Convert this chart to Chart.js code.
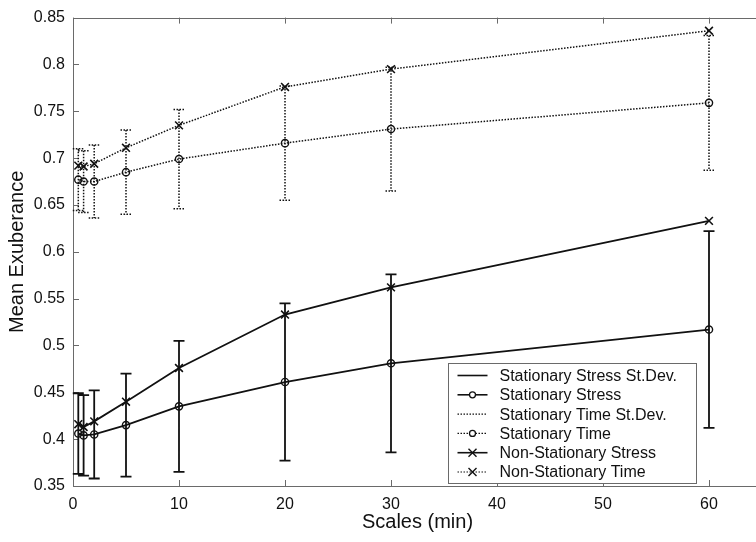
<!DOCTYPE html>
<html><head><meta charset="utf-8">
<script src="https://cdn.jsdelivr.net/npm/chart.js@4.4.0/dist/chart.umd.min.js"></script>
<style>html,body{margin:0;padding:0;overflow:hidden;background:#fff;width:756px;height:542px}canvas{display:block}</style>
</head><body><canvas id="c" width="770" height="542"></canvas>
<script>
const scaleMinutes = [0.5, 1, 2, 5, 10, 20, 30, 60];
const stationaryStress = [0.406, 0.404, 0.405, 0.415, 0.435, 0.461, 0.481, 0.517];
const stationaryStressSD = [0.043, 0.043, 0.047, 0.055, 0.070, 0.084, 0.095, 0.105];
const stationaryTime = [0.677, 0.675, 0.675, 0.685, 0.699, 0.716, 0.731, 0.759];
const stationaryTimeSD = [0.033, 0.033, 0.039, 0.045, 0.053, 0.061, 0.066, 0.072];
const nonStationaryStress = [0.416, 0.413, 0.419, 0.440, 0.476, 0.533, 0.562, 0.633];
const nonStationaryTime = [0.692, 0.691, 0.694, 0.711, 0.735, 0.776, 0.795, 0.836];
const yTicks = [0.35, 0.4, 0.45, 0.5, 0.55, 0.6, 0.65, 0.7, 0.75, 0.8, 0.85];
const xTicks = [0, 10, 20, 30, 40, 50, 60];
const legendLabels = ['Stationary Stress St.Dev.', 'Stationary Stress', 'Stationary Time St.Dev.', 'Stationary Time', 'Non-Stationary Stress', 'Non-Stationary Time'];

const FONT = 'Liberation Sans, Arial, Helvetica, sans-serif';
const INK = '#111';
const DOT = [1.5, 1.5];

function pts(vals) { return scaleMinutes.map((s, i) => ({x: s, y: vals[i]})); }

const boxPlugin = {
  id: 'box',
  beforeDatasetsDraw(chart) {
    const {ctx, chartArea: a} = chart;
    const xs = chart.scales.x, ys = chart.scales.y;
    ctx.save();
    ctx.strokeStyle = '#6a6a6a'; ctx.lineWidth = 1;
    ctx.strokeRect(Math.round(a.left) + 0.5, Math.round(a.top) + 0.5, Math.round(a.right - a.left), Math.round(a.bottom - a.top));
    const tl = 6;
    ctx.beginPath();
    xs.ticks.forEach(t => {
      const px = Math.round(xs.getPixelForValue(t.value)) + 0.5;
      ctx.moveTo(px, a.bottom); ctx.lineTo(px, a.bottom - tl);
      ctx.moveTo(px, a.top); ctx.lineTo(px, a.top + tl);
    });
    ys.ticks.forEach(t => {
      const py = Math.round(ys.getPixelForValue(t.value)) + 0.5;
      ctx.moveTo(a.left, py); ctx.lineTo(a.left + tl, py);
      ctx.moveTo(a.right, py); ctx.lineTo(a.right - tl, py);
    });
    ctx.stroke();
    ctx.restore();
  }
};

const errPlugin = {
  id: 'err',
  afterDatasetsDraw(chart) {
    const {ctx} = chart;
    const xs = chart.scales.x, ys = chart.scales.y;
    const draw = (means, sds, dash) => {
      ctx.save();
      ctx.strokeStyle = INK; ctx.lineWidth = dash ? 1.5 : 1.8;
      ctx.setLineDash(dash || []);
      ctx.beginPath();
      scaleMinutes.forEach((s, i) => {
        const px = xs.getPixelForValue(s);
        const top = ys.getPixelForValue(means[i] + sds[i]);
        const bot = ys.getPixelForValue(means[i] - sds[i]);
        const cw = 5.5;
        ctx.moveTo(px, top); ctx.lineTo(px, bot);
        ctx.moveTo(px - cw, top); ctx.lineTo(px + cw, top);
        ctx.moveTo(px - cw, bot); ctx.lineTo(px + cw, bot);
      });
      ctx.stroke();
      ctx.restore();
    };
    draw(stationaryStress, stationaryStressSD, null);
    draw(stationaryTime, stationaryTimeSD, DOT);
  }
};

const legendPlugin = {
  id: 'customLegend',
  afterDraw(chart) {
    const {ctx, chartArea: a} = chart;
    const w = 248, h = 120;
    const x0 = Math.round(a.right - 66 - w) + 0.5, y0 = Math.round(a.bottom - 3 - h) + 0.5;
    ctx.save();
    ctx.fillStyle = '#fff';
    ctx.fillRect(x0, y0, w, h);
    ctx.strokeStyle = '#6a6a6a'; ctx.lineWidth = 1;
    ctx.strokeRect(x0, y0, w, h);
    const styles = [
      {dash: null, marker: null},
      {dash: null, marker: 'o'},
      {dash: DOT, marker: null},
      {dash: DOT, marker: 'o'},
      {dash: null, marker: 'x'},
      {dash: DOT, marker: 'x'}
    ];
    ctx.font = '16px ' + FONT;
    ctx.textBaseline = 'middle';
    legendLabels.forEach((lab, i) => {
      const yy = y0 + 12 + i * 19.3;
      const st = styles[i];
      ctx.strokeStyle = INK; ctx.lineWidth = st.dash ? 1.2 : 1.6;
      ctx.setLineDash(st.dash || []);
      ctx.beginPath(); ctx.moveTo(x0 + 9, yy); ctx.lineTo(x0 + 39, yy); ctx.stroke();
      ctx.setLineDash([]);
      const mx = x0 + 24;
      if (st.marker === 'o') {
        ctx.lineWidth = 1.3; ctx.fillStyle = '#fff';
        ctx.beginPath(); ctx.arc(mx, yy, 3, 0, Math.PI * 2); ctx.fill(); ctx.stroke();
      } else if (st.marker === 'x') {
        ctx.lineWidth = 1.4; const r = 4;
        ctx.beginPath(); ctx.moveTo(mx - r, yy - r); ctx.lineTo(mx + r, yy + r); ctx.moveTo(mx - r, yy + r); ctx.lineTo(mx + r, yy - r); ctx.stroke();
      }
      ctx.fillStyle = INK;
      ctx.fillText(lab, x0 + 51, yy + 1);
    });
    ctx.restore();
  }
};

const common = {borderColor: INK, pointBorderColor: INK, pointBackgroundColor: 'rgba(0,0,0,0)', fill: false, tension: 0};

new Chart(document.getElementById('c'), {
  type: 'line',
  data: {
    datasets: [
      Object.assign({label: legendLabels[1], data: pts(stationaryStress), borderWidth: 1.8, pointStyle: 'circle', pointRadius: 3.6, pointBorderWidth: 1.4}, common),
      Object.assign({label: legendLabels[4], data: pts(nonStationaryStress), borderWidth: 1.8, pointStyle: 'crossRot', pointRadius: 5.5, pointBorderWidth: 1.6}, common),
      Object.assign({label: legendLabels[3], data: pts(stationaryTime), borderWidth: 1.5, borderDash: DOT, pointStyle: 'circle', pointRadius: 3.6, pointBorderWidth: 1.4}, common),
      Object.assign({label: legendLabels[5], data: pts(nonStationaryTime), borderWidth: 1.5, borderDash: DOT, pointStyle: 'crossRot', pointRadius: 5.5, pointBorderWidth: 1.6}, common)
    ]
  },
  options: {
    responsive: false,
    animation: false,
    devicePixelRatio: 1,
    layout: {padding: {top: 14, right: 8, left: 0, bottom: 0}},
    plugins: {legend: {display: false}, tooltip: {enabled: false}},
    elements: {line: {borderCapStyle: 'butt'}},
    scales: {
      x: {
        type: 'linear', min: 0, max: 65,
        afterBuildTicks: s => { s.ticks = xTicks.map(v => ({value: v})); },
        afterFit: s => { s.height = 56; },
        grid: {display: false, drawTicks: false},
        border: {display: false},
        ticks: {padding: 9, color: INK, font: {family: FONT, size: 16}, maxRotation: 0, callback: v => String(v)},
        title: {display: true, text: 'Scales (min)', color: INK, font: {family: FONT, size: 20}, padding: {bottom: 8}}
      },
      y: {
        type: 'linear', min: 0.35, max: 0.85,
        afterBuildTicks: s => { s.ticks = yTicks.map(v => ({value: v})); },
        afterFit: s => { s.width = 73; },
        grid: {display: false, drawTicks: false},
        border: {display: false},
        ticks: {padding: 8, color: INK, font: {family: FONT, size: 16}, callback: v => String(Number(v.toFixed(2)))},
        title: {display: true, text: 'Mean Exuberance', color: INK, font: {family: FONT, size: 20}, padding: {top: 5}}
      }
    }
  },
  plugins: [boxPlugin, errPlugin, legendPlugin]
});
</script>
</body></html>
